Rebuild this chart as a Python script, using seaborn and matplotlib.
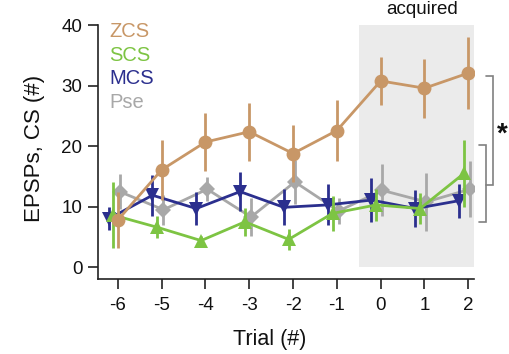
import numpy as np
import pandas as pd
import matplotlib
matplotlib.use("Agg")
import matplotlib.pyplot as plt
import seaborn as sns

# ---- data ----
trials = [-6, -5, -4, -3, -2, -1, 0, 1, 2]
series_names = ["ZCS", "SCS", "MCS", "Pse"]
zcs_mean = [7.8, 16.1, 20.7, 22.4, 18.8, 22.6, 30.8, 29.6, 32.1]
zcs_err = [4.6, 5.0, 4.8, 4.8, 4.7, 5.1, 3.9, 4.9, 5.9]
scs_mean = [8.6, 6.6, 4.4, 7.5, 4.6, 8.9, 10.3, 9.7, 15.5]
scs_err = [5.5, 1.8, 0.8, 2.3, 1.7, 2.9, 2.7, 2.6, 5.5]
mcs_mean = [8.0, 11.9, 9.7, 12.5, 9.9, 10.3, 11.1, 9.7, 11.0]
mcs_err = [1.9, 3.4, 2.7, 3.2, 3.0, 3.4, 3.6, 3.1, 2.8]
pse_mean = [12.5, 9.5, 12.9, 8.3, 14.1, 9.3, 12.7, 10.8, 12.9]
pse_err = [2.9, 2.5, 2.0, 3.2, 3.6, 2.2, 4.3, 4.8, 4.6]
acquired_span = [-0.5, 2.13]
acquired_label = "acquired"
xlabel = "Trial (#)"
ylabel = "EPSPs, CS (#)"
yticks = [0, 10, 20, 30, 40]

# ---- styles ----
colors = {"ZCS": "#C89767", "SCS": "#7DC443", "MCS": "#2B2F8E", "Pse": "#A8A8A8"}
markers = {"ZCS": "o", "SCS": "^", "MCS": "v", "Pse": "D"}
msizes = {"ZCS": 10, "SCS": 10.5, "MCS": 10.5, "Pse": 8}
offsets = {"ZCS": 0.0, "SCS": -0.1, "MCS": -0.21, "Pse": 0.04}
zorders = {"Pse": 3, "MCS": 4, "SCS": 5, "ZCS": 6}

means = {"ZCS": zcs_mean, "SCS": scs_mean, "MCS": mcs_mean, "Pse": pse_mean}
errs = {"ZCS": zcs_err, "SCS": scs_err, "MCS": mcs_err, "Pse": pse_err}

rows = []
for s in series_names:
    for t, m, e in zip(trials, means[s], errs[s]):
        rows.append({"series": s, "trial": t, "x": t + offsets[s], "mean": m, "err": e})
df = pd.DataFrame(rows)

sns.set_theme(style="ticks")
plt.rcParams["font.family"] = ["Liberation Sans", "DejaVu Sans"]

fig = plt.figure(figsize=(5.10, 3.54), dpi=100)
W, H = 510, 354
ax_l, ax_r, ax_t, ax_b = 97.7, 474.0, 25.3, 279.3
ax = fig.add_axes([ax_l / W, 1 - ax_b / H, (ax_r - ax_l) / W, (ax_b - ax_t) / H])

ax.axvspan(acquired_span[0], acquired_span[1], ymin=2 / 42, ymax=1.0,
           color="#EBEBEB", lw=0, zorder=0)

for s in ["Pse", "MCS", "SCS", "ZCS"]:
    d = df[df["series"] == s]
    ax.errorbar(d["x"], d["mean"], yerr=d["err"], fmt="none", ecolor=colors[s],
                elinewidth=2.0, capsize=0, zorder=zorders[s])
    sns.lineplot(data=d, x="x", y="mean", ax=ax, color=colors[s], marker=markers[s],
                 markersize=msizes[s], markeredgewidth=0, linewidth=2.0,
                 zorder=zorders[s] + 0.5, legend=False, errorbar=None)

ax.set_xlim(-6.46, 2.13)
ax.set_ylim(-2, 40)
ax.set_xticks(trials)
ax.set_xticklabels([str(t) for t in trials])
ax.set_yticks(yticks)
ax.tick_params(axis="both", direction="out", length=7, width=1.2, labelsize=13.5,
               color="#222222", labelcolor="#111111")
ax.tick_params(axis="x", pad=6)
ax.tick_params(axis="y", pad=4)
for sp in ["top", "right"]:
    ax.spines[sp].set_visible(False)
for sp in ["left", "bottom"]:
    ax.spines[sp].set_linewidth(1.2)
    ax.spines[sp].set_color("#222222")

ax.set_xlabel(xlabel, fontsize=15.5, color="#111111")
ax.set_ylabel(ylabel, fontsize=16, color="#111111")
ax.xaxis.set_label_coords(0.457, -0.195)
ax.yaxis.set_label_coords(-0.141, 0.515)

# legend as coloured text
for i, s in enumerate(series_names):
    ax.text(0.03, 0.975 - i * 0.093, s, transform=ax.transAxes, color=colors[s],
            fontsize=14.5, ha="left", va="center")

ax.text(0.94, 41.9, acquired_label, ha="center", va="baseline", fontsize=13.5,
        color="#111111", clip_on=False)

# significance brackets
bc = "#808080"
ax.plot([2.415, 2.567, 2.567, 2.415], [31.6, 31.6, 13.6, 13.6], color=bc, lw=1.2,
        clip_on=False, solid_joinstyle="miter")
ax.plot([2.25, 2.40, 2.40, 2.25], [20.2, 20.2, 7.5, 7.5], color=bc, lw=1.2,
        clip_on=False, solid_joinstyle="miter")
ax.text(2.77, 21.9, "*", ha="center", va="center", fontsize=20, fontweight="bold",
        color="#111111", clip_on=False)

fig.savefig("out.png", dpi=100)
